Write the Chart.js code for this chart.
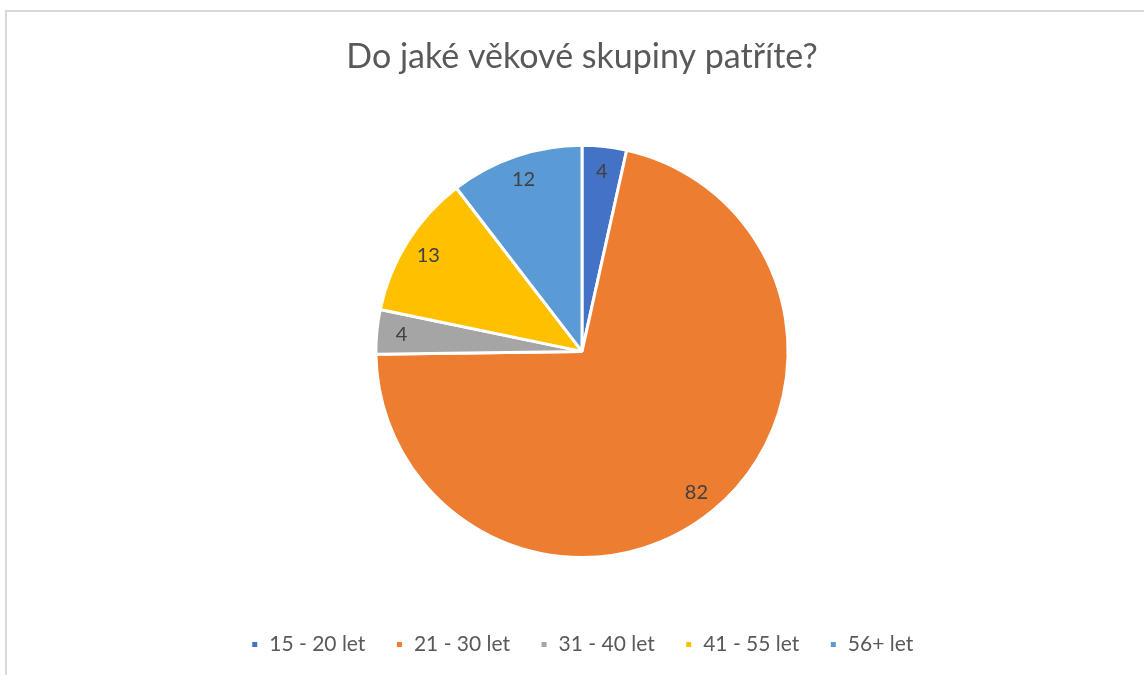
<!DOCTYPE html>
<html>
<head>
	<meta charset="UTF-8">
	<title>Do jaké věkové skupiny patříte?</title>
	<script src="https://cdn.jsdelivr.net/npm/chart.js@4.4.1/dist/chart.umd.min.js"></script>
	<style>
		body { margin: 0; background: #fff; }
		#frame { position: absolute; left: 5px; top: 10px; width: 1200px; height: 700px; border: 2px solid #d9d9d9; }
		#wrap { position: absolute; left: 0; top: 0; width: 1144px; height: 675px; }
	</style>
</head>
<body>
	<div id="frame"></div>
	<div id="wrap"><canvas id="chart_vek"></canvas></div>

	<script>
		// vekove skupiny
		var labels = ['15 - 20 let', '21 - 30 let', '31 - 40 let', '41 - 55 let', '56+ let'];
		var values = [4, 82, 4, 13, 12];
		var colors = ['#4472C4', '#ED7D31', '#A5A5A5', '#FFC000', '#5B9BD5'];

		// popisky hodnot uvnitr vysecu
		var valueLabels = {
			id: 'valueLabels',
			afterDatasetsDraw: function(chart) {
				var ctx = chart.ctx;
				var meta = chart.getDatasetMeta(0);
				ctx.save();
				ctx.fillStyle = '#404040';
				ctx.font = '20px Lato';
				ctx.textAlign = 'center';
				ctx.textBaseline = 'middle';
				meta.data.forEach(function(arc, i) {
					var mid = (arc.startAngle + arc.endAngle) / 2;
					var r = arc.outerRadius * 0.88;
					ctx.fillText(values[i], arc.x + Math.cos(mid) * r, arc.y + Math.sin(mid) * r);
				});
				ctx.restore();
			}
		};

		var ctx = document.getElementById('chart_vek').getContext('2d');
		var myChart = new Chart(ctx, {
			type: 'pie',
			data: {
				labels: labels,
				datasets: [{
					data: values,
					backgroundColor: colors,
					borderColor: '#ffffff',
					borderWidth: 3
				}]
			},
			options: {
				responsive: true,
				maintainAspectRatio: false,
				animation: false,
				layout: { padding: { left: 20, right: 0, top: 0, bottom: 10 } },
				plugins: {
					title: {
						display: true,
						text: 'Do jaké věkové skupiny patříte?',
						color: '#595959',
						font: { family: 'Lato', size: 34, weight: 'normal' },
						padding: { top: 37, bottom: 66 }
					},
					legend: {
						position: 'bottom',
						title: {
							display: true,
							text: ' ',
							font: { size: 10, lineHeight: 1 },
							padding: { top: 35, bottom: 0 }
						},
						labels: {
							color: '#595959',
							font: { family: 'Lato', size: 21 },
							boxWidth: 8,
							boxHeight: 8,
							padding: 30
						}
					},
					tooltip: { enabled: false }
				}
			},
			plugins: [valueLabels]
		});
	</script>
</body>
</html>
